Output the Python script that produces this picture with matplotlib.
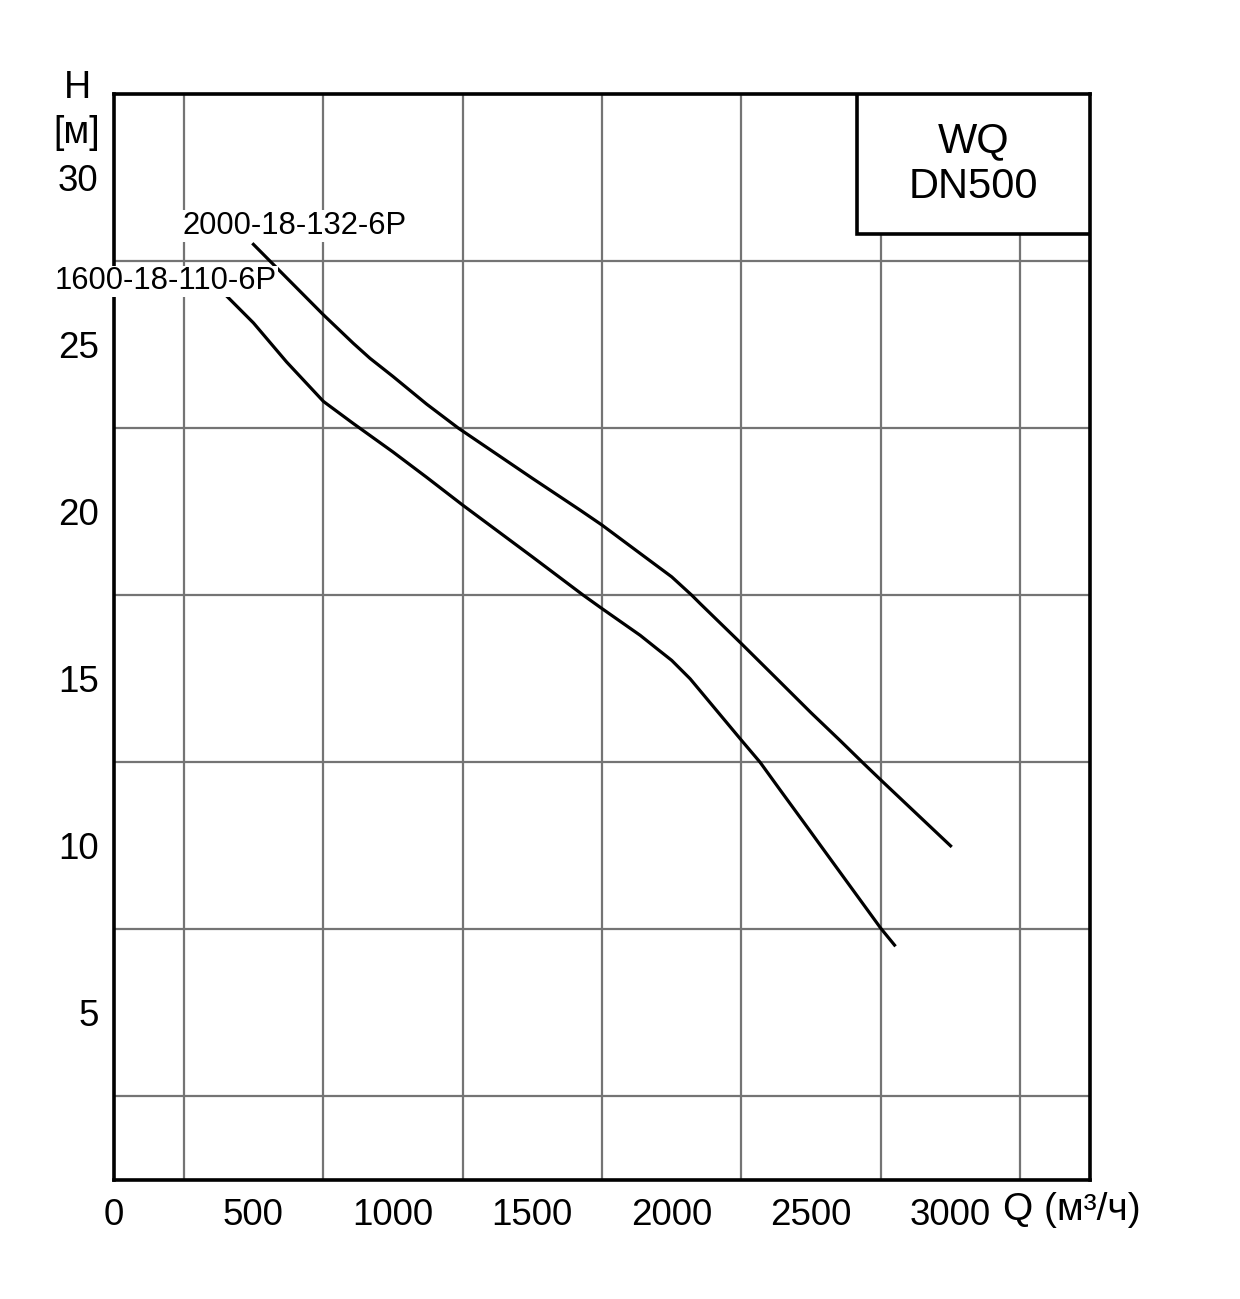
import matplotlib
matplotlib.use('Agg')
import matplotlib.pyplot as plt
from matplotlib.patches import Rectangle

plt.rcParams['font.family'] = ['Liberation Sans', 'DejaVu Sans']

# pump curves: Q (m3/h) and H (m)
q_132 = [500, 619, 750, 858, 918, 1000, 1121, 1235, 1500, 1671, 1750, 1887, 2000,
         2072, 2102, 2250, 2377, 2500, 2604, 2690, 2750, 3000]
h_132 = [28.0, 27.0, 25.9, 25.04, 24.59, 24.05, 23.22, 22.5, 21.0, 20.05, 19.6, 18.75, 18.05,
         17.5, 17.25, 16.05, 15.0, 13.98, 13.15, 12.45, 11.97, 10.0]

q_110 = [402, 500, 619, 751, 858, 1000, 1121, 1250, 1500, 1683, 1750, 1887, 1947, 2000,
         2066, 2126, 2250, 2317, 2389, 2500, 2532, 2750, 2799]
h_110 = [26.47, 25.65, 24.48, 23.3, 22.64, 21.79, 21.03, 20.2, 18.65, 17.5, 17.1, 16.3, 15.9, 15.55,
         15.0, 14.4, 13.16, 12.5, 11.67, 10.4, 10.03, 7.53, 7.03]

name_132 = '2000-18-132-6P'
name_110 = '1600-18-110-6P'

x_ticks = [0, 500, 1000, 1500, 2000, 2500, 3000]
y_ticks = [5, 10, 15, 20, 25, 30]

fig = plt.figure(figsize=(12.4, 12.99), dpi=100)
ax = fig.add_axes([114/1240, 1 - 1180/1299, 976/1240, 1086/1299])

ax.set_xlim(0, 3500)
ax.set_ylim(0, 32.5)

ax.set_xticks(x_ticks)
ax.set_yticks(y_ticks)
ax.set_xticks(range(0, 3501, 250), minor=True)
ax.set_yticks([i * 2.5 for i in range(14)], minor=True)
ax.grid(which='minor', color='#747474', linewidth=1.6, zorder=1)
ax.set_axisbelow(True)
ax.tick_params(which='both', length=0)
ax.tick_params(axis='x', labelsize=26.5, pad=13)
ax.tick_params(axis='y', labelsize=26.5, pad=11)

for s in ax.spines.values():
    s.set_linewidth(2.6)
    s.set_zorder(3)

ax.plot(q_132, h_132, color='black', linewidth=2.3, zorder=4)
ax.plot(q_110, h_110, color='black', linewidth=2.3, zorder=4)

# model labels with white background over the grid
ax.text(247, 28.55, name_132, fontsize=22.3, va='center', ha='left', zorder=6,
        bbox=dict(facecolor='white', edgecolor='none', pad=0.5), clip_on=False)
ax.text(-212, 26.9, name_110, fontsize=22.3, va='center', ha='left', zorder=6,
        bbox=dict(facecolor='white', edgecolor='none', pad=0.5), clip_on=False)

# title box at top right
x0 = (857 - 114) / 976
y0 = (1180 - 234) / 1086
ax.add_patch(Rectangle((x0, y0), 1 - x0, 1 - y0, transform=ax.transAxes,
                       facecolor='white', edgecolor='black', linewidth=2.6, zorder=5))
ax.text((x0 + 1) / 2, (1180 - 141) / 1086, 'WQ', transform=ax.transAxes,
        fontsize=30, ha='center', va='center', zorder=6)
ax.text((x0 + 1) / 2, (1180 - 187) / 1086, 'DN500', transform=ax.transAxes,
        fontsize=30, ha='center', va='center', zorder=6)

# axis names
fig.text(77/1240, 1 - 88/1299, 'H', fontsize=27, ha='center', va='center')
fig.text(77/1240, 1 - 133/1299, '[м]', fontsize=27, ha='center', va='center')
fig.text(1003/1240, 1 - 1210/1299, 'Q (м³/ч)', fontsize=28, ha='left', va='center')

fig.savefig('out.png', dpi=100, facecolor='white')
